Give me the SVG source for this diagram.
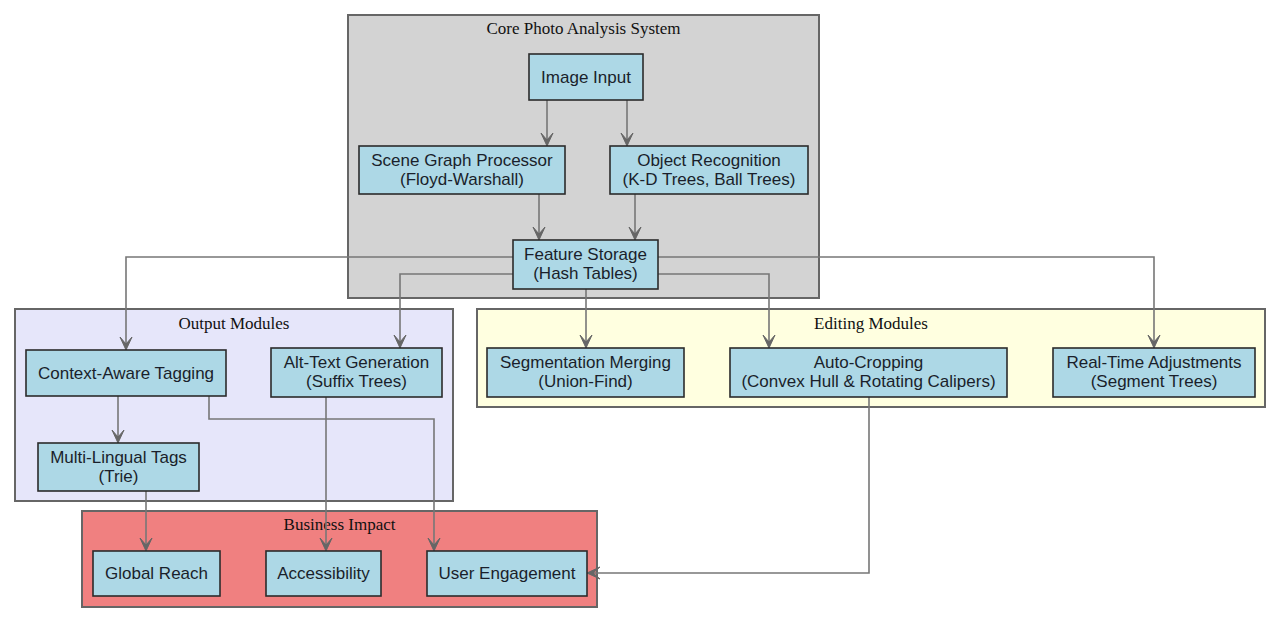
<svg xmlns="http://www.w3.org/2000/svg" width="1280" height="622" viewBox="0 0 1280 622">
<style>
.cl{stroke:#666;stroke-width:2}
.ct{font-family:"Liberation Serif","Times New Roman",serif;font-size:17px;fill:#111;text-anchor:middle}
.n rect{fill:#add8e6;stroke:#2b2b2b;stroke-width:1.6}
.n text{font-family:"Liberation Sans",Arial,sans-serif;font-size:17px;fill:#1a1f2b;text-anchor:middle}
.e path{fill:none;stroke:#777;stroke-width:1.6;marker-end:url(#vee)}
</style>
<defs>
<marker id="vee" markerUnits="userSpaceOnUse" viewBox="-15 -8 16 16" refX="0" refY="0" markerWidth="16" markerHeight="16" orient="auto">
<path d="M0,0 L-13,-6 L-6,0 L-13,6 Z" fill="#666" stroke="#666" stroke-width="1"/>
</marker>
</defs>
<rect width="1280" height="622" fill="#fff"/>
<g id="cluster_core"><rect class="cl" x="348" y="15" width="471" height="283" fill="#d3d3d3"/><text class="ct" x="583.5" y="34">Core Photo Analysis System</text></g>
<g id="cluster_output"><rect class="cl" x="15" y="309" width="438" height="192" fill="#e6e6fa"/><text class="ct" x="234" y="329">Output Modules</text></g>
<g id="cluster_editing"><rect class="cl" x="477" y="309" width="788" height="98" fill="#ffffe0"/><text class="ct" x="871" y="329">Editing Modules</text></g>
<g id="cluster_business"><rect class="cl" x="82" y="511" width="515" height="96" fill="#f08080"/><text class="ct" x="339.5" y="530">Business Impact</text></g>
<g id="edges" class="e">
<path d="M547,100 V146"/>
<path d="M627,100 V146"/>
<path d="M539,194 V240"/>
<path d="M635,194 V240"/>
<path d="M513,257 H126 V350"/>
<path d="M513,274 H400 V348"/>
<path d="M586,289 V348"/>
<path d="M658,274 H769 V348"/>
<path d="M658,257 H1154 V348"/>
<path d="M118,396 V443"/>
<path d="M209,396 V419 H434 V551"/>
<path d="M326,397 V551"/>
<path d="M146,491 V551"/>
<path d="M869,397 V573 H587"/>
</g>
<g id="image_input" class="n"><rect x="529" y="54" width="114" height="46"/><text x="586" y="83">Image Input</text></g>
<g id="scene_graph" class="n"><rect x="359" y="146" width="206" height="48"/><text x="462" y="166">Scene Graph Processor</text><text x="462" y="185">(Floyd-Warshall)</text></g>
<g id="object_recognition" class="n"><rect x="610" y="146" width="198" height="48"/><text x="709" y="166">Object Recognition</text><text x="709" y="185">(K-D Trees, Ball Trees)</text></g>
<g id="feature_storage" class="n"><rect x="513" y="240" width="145" height="49"/><text x="585.5" y="260">Feature Storage</text><text x="585.5" y="279">(Hash Tables)</text></g>
<g id="context_tagging" class="n"><rect x="26" y="350" width="200" height="46"/><text x="126" y="379">Context-Aware Tagging</text></g>
<g id="alt_text" class="n"><rect x="271" y="348" width="171" height="49"/><text x="356.5" y="368">Alt-Text Generation</text><text x="356.5" y="387">(Suffix Trees)</text></g>
<g id="multilingual" class="n"><rect x="38" y="443" width="161" height="48"/><text x="118.5" y="463">Multi-Lingual Tags</text><text x="118.5" y="482">(Trie)</text></g>
<g id="segmentation" class="n"><rect x="487" y="348" width="197" height="49"/><text x="585.5" y="368">Segmentation Merging</text><text x="585.5" y="387">(Union-Find)</text></g>
<g id="auto_cropping" class="n"><rect x="730" y="348" width="277" height="49"/><text x="868.5" y="368">Auto-Cropping</text><text x="868.5" y="387">(Convex Hull &amp; Rotating Calipers)</text></g>
<g id="realtime" class="n"><rect x="1053" y="348" width="202" height="49"/><text x="1154" y="368">Real-Time Adjustments</text><text x="1154" y="387">(Segment Trees)</text></g>
<g id="global_reach" class="n"><rect x="93" y="551" width="127" height="45"/><text x="156.5" y="579">Global Reach</text></g>
<g id="accessibility" class="n"><rect x="266" y="551" width="115" height="45"/><text x="323.5" y="579">Accessibility</text></g>
<g id="user_engagement" class="n"><rect x="427" y="551" width="160" height="45"/><text x="507" y="579">User Engagement</text></g>
</svg>
